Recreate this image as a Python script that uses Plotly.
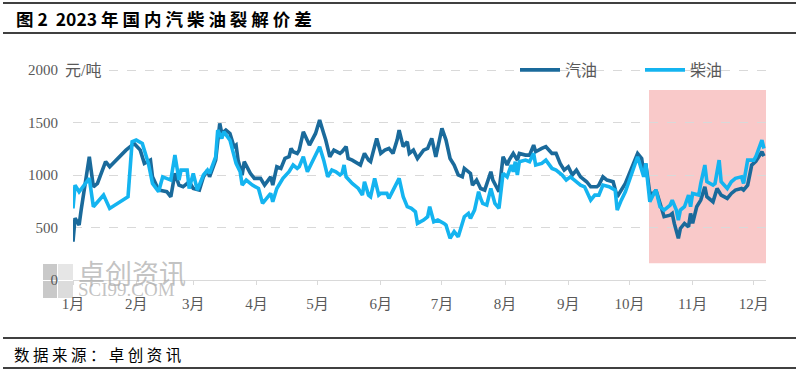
import pandas as pd
import plotly.graph_objects as go

# ---- data (day offset from 2023-01-01, value in 元/吨) ----
gas_day = [0, 1, 3, 4, 8, 10, 12, 16, 18, 21, 26, 29, 30, 33, 35, 38, 39, 42, 46, 48, 50, 52, 54, 57, 59,
           62, 64, 66, 67, 70, 72, 73, 75, 77, 79, 80, 81, 83, 84, 87, 89, 92, 94, 97, 98, 100, 102, 104,
           106, 107, 108, 110, 111, 113, 115, 116, 119, 121, 123, 124, 126, 128, 131, 132, 134, 135, 137,
           141, 143, 145, 146, 149, 151, 153, 155, 157, 159, 160, 162, 164, 165, 167, 169, 172, 174, 176,
           178, 181, 183, 185, 187, 189, 191, 192, 195, 196, 198, 200, 202, 205, 206, 209, 211, 213, 214,
           216, 218, 219, 222, 224, 226, 227, 230, 232, 235, 237, 239, 241, 243, 245, 247, 249, 252, 254,
           257, 258, 260, 262, 265, 267, 271, 277, 279, 280, 281, 283, 285, 286, 289, 290, 293, 294,
           295, 297, 298, 300, 302, 303, 304, 306, 308, 310, 311, 314, 316, 318, 321, 323, 325, 328, 329,
           331, 333, 335, 338, 339]
gas_val = [365, 590, 523, 666, 1174, 888, 921, 1127, 1079, 1142, 1237, 1285, 1300, 1237, 1111, 1142, 983,
           857, 841, 793, 1016, 904, 888, 936, 872, 857, 983, 1047, 983, 1142, 1492, 1396, 1428, 1396,
           1270, 1285, 1142, 1000, 1127, 1016, 968, 968, 904, 983, 904, 1079, 1063, 1158, 1174, 1253,
           1222, 1206, 1237, 1412, 1333, 1285, 1396, 1523, 1396, 1333, 1174, 1237, 1206, 1222, 1270,
           1158, 1142, 1095, 1206, 1142, 1127, 1349, 1206, 1237, 1253, 1206, 1333, 1428, 1270, 1317,
           1206, 1237, 1158, 1237, 1253, 1349, 1174, 1444, 1333, 1158, 1095, 1000, 983, 1063, 1016, 904,
           952, 872, 857, 1031, 952, 841, 1174, 1095, 1142, 1206, 1142, 1206, 1190, 1190, 1285, 1222,
           1253, 1270, 1206, 1206, 1111, 1047, 1079, 1000, 1047, 983, 936, 888, 888, 904, 983, 952, 936,
           793, 920, 1206, 1158, 1016, 1111, 825, 825, 857, 666, 603, 618, 634, 539, 397, 491, 539,
           507, 634, 539, 698, 761, 888, 793, 745, 872, 809, 777, 825, 857, 872, 857, 904, 1095, 1130,
           1222, 1180]

dsl_day = [0, 1, 3, 5, 8, 10, 12, 15, 18, 27, 29, 31, 34, 37, 39, 42, 44, 48, 50, 52, 53, 56, 57, 59, 61,
           64, 66, 67, 70, 71, 73, 74, 77, 79, 80, 82, 83, 85, 88, 91, 93, 95, 97, 98, 100, 103, 106, 108,
           110, 111, 113, 115, 118, 121, 123, 125, 127, 129, 131, 132, 133, 134, 137, 140, 142, 143, 145,
           146, 148, 150, 151, 154, 155, 157, 160, 162, 164, 166, 168, 169, 172, 174, 175, 177, 179, 182,
           183, 185, 187, 189, 191, 192, 194, 195, 197, 199, 200, 201, 203, 205, 207, 209, 211, 213, 215,
           216, 217, 218, 219, 222, 224, 226, 227, 230, 232, 235, 237, 240, 242, 244, 246, 249, 251, 253,
           254, 256, 258, 260, 263, 266, 267, 269, 271, 277, 280, 281, 283, 285, 286, 288, 290, 293,
           294, 296, 297, 298, 300, 302, 303, 304, 307, 308, 310, 311, 314, 315, 317, 318, 321, 323, 325,
           328, 329, 331, 334, 335, 338, 339]
dsl_val = [682, 904, 841, 888, 968, 698, 745, 809, 682, 793, 1317, 1333, 1300, 1111, 920, 841, 983, 952,
           1190, 952, 1047, 1047, 872, 1016, 857, 1000, 1047, 1016, 1174, 1428, 1349, 1412, 1333, 1174,
           1111, 1031, 904, 952, 904, 872, 730, 777, 825, 745, 872, 968, 1031, 1095, 1063, 1079, 1174,
           1031, 1142, 1270, 1142, 983, 1047, 1031, 1000, 1016, 1095, 983, 920, 872, 809, 936, 809, 793,
           968, 809, 825, 825, 777, 857, 968, 793, 698, 682, 650, 539, 571, 603, 698, 555, 571, 539, 523,
           397, 460, 412, 523, 603, 634, 587, 666, 841, 777, 730, 714, 872, 730, 682, 1016, 983, 1095,
           1031, 1127, 1000, 1127, 1142, 1127, 1206, 1095, 1111, 1142, 1063, 1047, 1000, 952, 983, 952,
           904, 888, 809, 761, 809, 809, 904, 888, 857, 666, 761, 841, 1174, 983, 1111, 745, 825, 857,
           698, 666, 714, 761, 666, 571, 666, 698, 809, 698, 825, 809, 920, 1095, 936, 904, 920, 1142,
           936, 872, 936, 968, 983, 920, 1142, 1142, 1174, 1333, 1253]

month_ticks = ["2023-%02d-01" % m for m in range(1, 13)]
month_labels = ["%d月" % m for m in range(1, 13)]
y_ticks = [0, 500, 1000, 1500, 2000]
series_names = ["汽油", "柴油"]

base = pd.Timestamp("2023-01-01")
gas_x = base + pd.to_timedelta(gas_day, unit="D")
dsl_x = base + pd.to_timedelta(dsl_day, unit="D")

GAS_C = "#1A6A9B"
DSL_C = "#14B4F0"
TXT = "#595959"
WM = "rgba(175,175,175,0.75)"
TICKFONT = "Liberation Serif, Noto Sans CJK SC, serif"

fig = go.Figure()
fig.add_trace(go.Scatter(x=gas_x, y=gas_val, mode="lines", name=series_names[0],
                         line=dict(color=GAS_C, width=3.6)))
fig.add_trace(go.Scatter(x=dsl_x, y=dsl_val, mode="lines", name=series_names[1],
                         line=dict(color=DSL_C, width=3.6)))

# plot-area geometry helpers (pixels -> paper)
L, R, T, B = 73, 766, 69, 280
W, H = R - L, B - T
def px(x):
    return (x - L) / W
def py(y):
    return (B - y) / H

shapes = [
    # highlight box
    dict(type="rect", xref="paper", yref="y", x0=px(649), x1=1.0, y0=160, y1=1810,
         fillcolor="#F9C9C9", line=dict(width=0), layer="below"),
    # header / footer rules
    dict(type="line", xref="paper", yref="paper", x0=px(3), x1=px(796), y0=py(3), y1=py(3),
         line=dict(color="black", width=1.5)),
    dict(type="line", xref="paper", yref="paper", x0=px(3), x1=px(796), y0=py(33), y1=py(33),
         line=dict(color="black", width=1.5)),
    dict(type="line", xref="paper", yref="paper", x0=px(3), x1=px(796), y0=py(338), y1=py(338),
         line=dict(color="black", width=1.5)),
    dict(type="line", xref="paper", yref="paper", x0=px(3), x1=px(796), y0=py(368), y1=py(368),
         line=dict(color="black", width=1.5)),
    # watermark logo (2x2 squares)
    dict(type="rect", xref="paper", yref="paper", x0=px(43), x1=px(57), y0=py(280), y1=py(264),
         fillcolor="#C9C9C9", line=dict(width=0), layer="below"),
    dict(type="rect", xref="paper", yref="paper", x0=px(58), x1=px(73), y0=py(280), y1=py(264),
         fillcolor="#E6E6E6", line=dict(width=0), layer="below"),
    dict(type="rect", xref="paper", yref="paper", x0=px(43), x1=px(57), y0=py(298), y1=py(281),
         fillcolor="#C9C9C9", line=dict(width=0), layer="below"),
    dict(type="rect", xref="paper", yref="paper", x0=px(58), x1=px(73), y0=py(298), y1=py(281),
         fillcolor="#DCDCDC", line=dict(width=0), layer="below"),
]

annotations = [
    dict(text="<b>图 2  2023 年 国 内 汽 柴 油 裂 解 价 差</b>", xref="paper", yref="paper",
         x=px(14), y=py(18), xanchor="left", yanchor="middle", showarrow=False,
         font=dict(size=17.5, color="black", family="Noto Sans CJK SC")),
    dict(text="数 据 来 源 ： 卓 创 资 讯", xref="paper", yref="paper",
         x=px(12), y=py(354), xanchor="left", yanchor="middle", showarrow=False,
         font=dict(size=15.5, color="black", family="Noto Sans CJK SC")),
    dict(text="元/吨", xref="paper", yref="paper", x=px(64), y=py(70), xanchor="left",
         yanchor="middle", showarrow=False, bgcolor="white", borderpad=0,
         font=dict(size=16, color=TXT, family=TICKFONT)),
    dict(text="卓创资讯", xref="paper", yref="paper", x=px(76), y=py(272), xanchor="left",
         yanchor="middle", showarrow=False,
         font=dict(size=27, color=WM, family="Noto Sans CJK SC")),
    dict(text="SCI99.COM", xref="paper", yref="paper", x=px(76), y=py(289), xanchor="left",
         yanchor="middle", showarrow=False,
         font=dict(size=19, color=WM, family="Liberation Serif")),
]

fig.update_layout(
    width=798, height=374,
    margin=dict(l=L, r=798 - R, t=T, b=374 - B, autoexpand=False),
    paper_bgcolor="white", plot_bgcolor="white",
    showlegend=True,
    legend=dict(orientation="h", x=px(515), y=py(70), xanchor="left", yanchor="middle",
                font=dict(size=16, color=TXT, family="Noto Sans CJK SC"),
                bgcolor="rgba(0,0,0,0)", entrywidth=70, itemwidth=40, tracegroupgap=0),
    shapes=shapes,
    annotations=annotations,
    xaxis=dict(type="date", range=["2023-01-01", "2023-12-07"], tickvals=month_ticks,
               ticktext=month_labels, showgrid=False, showline=True, linecolor="#D9D9D9",
               linewidth=1, ticks="outside", ticklen=4, tickcolor="#D9D9D9",
               tickfont=dict(size=15, color=TXT, family=TICKFONT), ticklabelstandoff=6,
               zeroline=False),
    yaxis=dict(range=[0, 2010], tickvals=y_ticks, ticktext=[str(v) for v in y_ticks],
               showgrid=True, gridcolor="#D9D9D9", griddash="dash", gridwidth=1,
               zeroline=False, showline=False, ticks="",
               tickfont=dict(size=15, color=TXT, family=TICKFONT), ticklabelstandoff=14),
)

fig.write_html("out.html", config={"displayModeBar": False},
               post_script="document.body.style.margin='0px';document.body.style.overflow='hidden';")
